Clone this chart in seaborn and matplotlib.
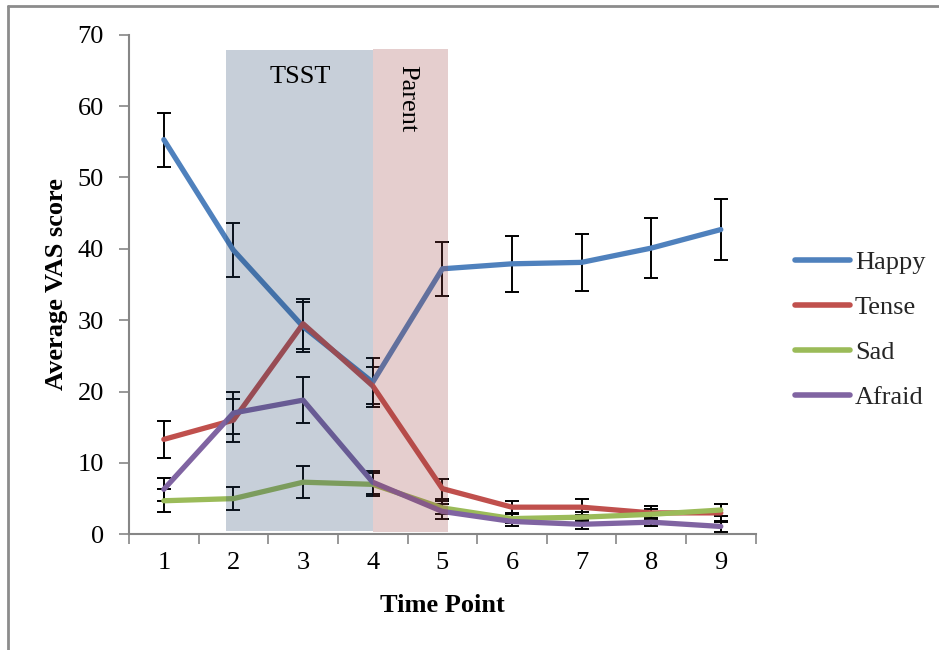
import numpy as np
import pandas as pd
import matplotlib
matplotlib.use("Agg")
import matplotlib.pyplot as plt
from matplotlib.patches import Rectangle
from matplotlib.lines import Line2D
import seaborn as sns

# ---- data ----
time_points = [1, 2, 3, 4, 5, 6, 7, 8, 9]
emotions = ["Happy", "Tense", "Sad", "Afraid"]
happy = [55.3, 39.8, 29.1, 21.3, 37.2, 37.9, 38.1, 40.1, 42.7]
happy_err = [3.8, 3.8, 3.5, 3.4, 3.8, 3.9, 4.0, 4.2, 4.3]
tense = [13.3, 16.0, 29.5, 20.8, 6.4, 3.8, 3.8, 3.0, 3.0]
tense_err = [2.6, 3.0, 3.5, 2.6, 1.4, 0.8, 1.1, 0.9, 1.3]
sad = [4.7, 5.0, 7.3, 7.0, 3.7, 2.2, 2.4, 2.8, 3.4]
sad_err = [1.6, 1.6, 2.2, 1.6, 0.9, 0.6, 0.7, 0.8, 0.9]
afraid = [6.3, 17.0, 18.8, 7.3, 3.2, 1.8, 1.4, 1.7, 1.1]
afraid_err = [1.6, 3.0, 3.2, 1.6, 1.0, 0.6, 0.6, 0.6, 0.8]
colors = ["#4F81BD", "#C0504D", "#9BBB59", "#8064A2"]

values = [happy, tense, sad, afraid]
errors = [happy_err, tense_err, sad_err, afraid_err]

df = pd.DataFrame({
    "Time Point": np.tile(time_points, len(emotions)),
    "score": np.concatenate(values),
    "err": np.concatenate(errors),
    "emotion": np.repeat(emotions, len(time_points)),
})

sns.set_theme(style="white")
plt.rcParams["font.family"] = ["Liberation Serif", "DejaVu Serif"]
FS = 19

fig = plt.figure(figsize=(9.39, 6.5), dpi=100)
ax = fig.add_axes([0.1374, 0.178, 0.6673, 0.7686])

sns.lineplot(data=df, x="Time Point", y="score", hue="emotion",
             hue_order=emotions, palette=colors, lw=3.8, ax=ax,
             legend=False, solid_capstyle="round", zorder=3)

for name, v, e in zip(emotions, values, errors):
    ax.errorbar(time_points, v, yerr=e, fmt="none", ecolor="black",
                elinewidth=1.4, capsize=5, capthick=1.4, zorder=2)

# shaded periods (drawn on top, semi-transparent)
ax.add_patch(Rectangle((1.894, 0.5), 4.006 - 1.894, 67.3,
                       facecolor="#23436B", alpha=0.25, lw=0, zorder=5))
ax.add_patch(Rectangle((4.006, 0.3), 5.08 - 4.006, 67.7,
                       facecolor="#9B3F3F", alpha=0.25, lw=0, zorder=5))
ax.text(2.96, 65.6, "TSST", ha="center", va="top", fontsize=FS,
        color="black", zorder=6)
ax.text(4.49, 65.8, "Parent", ha="center", va="top", fontsize=FS,
        rotation=270, color="black", zorder=6)

ax.set_xlim(0.5, 9.5)
ax.set_ylim(0, 70)
ax.set_yticks(range(0, 71, 10))
ax.set_xticks(time_points)
ax.set_xticks(np.arange(0.5, 9.6, 1), minor=True)
ax.tick_params(axis="x", which="major", length=0, labelsize=FS, pad=13,
               colors="black")
ax.tick_params(axis="x", which="minor", length=7, width=1.2,
               color="#868686", direction="out", bottom=True)
ax.tick_params(axis="y", length=7, width=1.2, color="#868686",
               direction="out", labelsize=FS, pad=11, left=True,
               labelcolor="black")
for s in ["top", "right"]:
    ax.spines[s].set_visible(False)
for s in ["left", "bottom"]:
    ax.spines[s].set_color("#868686")
    ax.spines[s].set_linewidth(1.5)

ax.set_xlabel("Time Point", fontsize=FS, fontweight="bold", labelpad=14,
              color="black")
ax.set_ylabel("Average VAS score", fontsize=FS, fontweight="bold",
              labelpad=7, color="black")

handles = [Line2D([0], [0], color=c, lw=4, solid_capstyle="round")
           for c in colors]
fig.legend(handles, emotions, loc="upper left",
           bbox_to_anchor=(0.835, 0.631), frameon=False, fontsize=FS,
           handlelength=2.08, handletextpad=0.2, labelspacing=0.82,
           borderaxespad=0)

# outer frame lines (left and top)
fig.add_artist(Line2D([7.5 / 939, 7.5 / 939], [0, 1 - 5.5 / 650],
                      color="#8C8C8C", lw=2, transform=fig.transFigure))
fig.add_artist(Line2D([7.5 / 939, 1], [1 - 5.5 / 650, 1 - 5.5 / 650],
                      color="#8C8C8C", lw=2, transform=fig.transFigure))

fig.savefig("out.png", dpi=100, facecolor="white")
